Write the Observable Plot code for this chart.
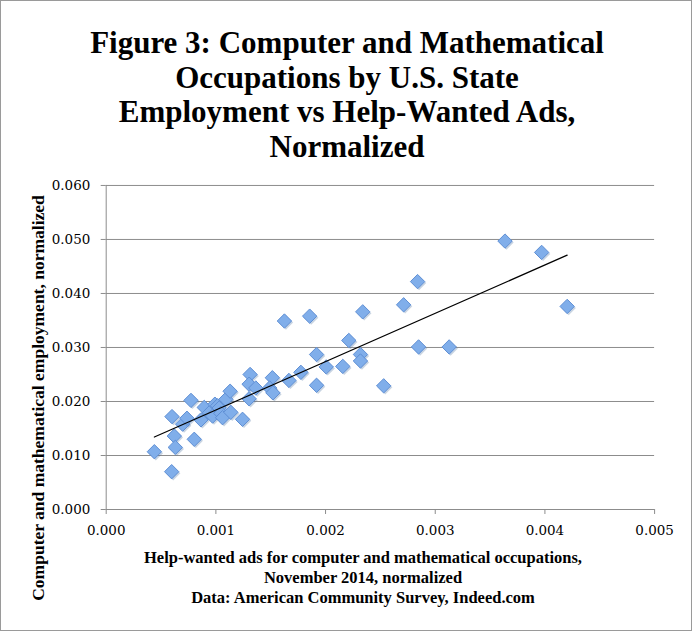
<!DOCTYPE html>
<html>
<head>
<meta charset="utf-8">
<script src="https://cdn.jsdelivr.net/npm/d3@7"></script>
<script src="https://cdn.jsdelivr.net/npm/@observablehq/plot@0.6"></script>
<style>
  html, body { margin: 0; padding: 0; background: #fff; }
  #wrap { position: relative; width: 692px; height: 631px; box-sizing: border-box; border: 1px solid #9a9a9a; overflow: hidden; background: #fff; }
  #title { position: absolute; left: 0; top: 25px; width: 692px; text-align: center; font-family: "Liberation Serif", serif; font-weight: bold; font-size: 31px; line-height: 34.5px; color: #000; }
  #xtitle { position: absolute; left: 62px; top: 547px; width: 600px; text-align: center; font-family: "Liberation Serif", serif; font-weight: bold; font-size: 16.5px; line-height: 20px; color: #000; }
  #ytitle { position: absolute; left: 37px; top: 397px; transform: translate(-50%, -50%) rotate(-90deg); white-space: nowrap; font-family: "Liberation Serif", serif; font-weight: bold; font-size: 17.5px; color: #000; }
  #chart { position: absolute; left: 0; top: 170px; }
</style>
</head>
<body>
<div id="wrap">
  <div id="title"></div>
  <div id="chart"></div>
  <div id="ytitle"></div>
  <div id="xtitle"></div>
</div>
<script>
const titleLines = [
  "Figure 3: Computer and Mathematical",
  "Occupations by U.S. State",
  "Employment vs Help-Wanted Ads,",
  "Normalized"
];
const xTitleLines = [
  "Help-wanted ads for computer and mathematical occupations,",
  "November 2014, normalized",
  "Data: American Community Survey, Indeed.com"
];
const yTitle = "Computer and mathematical employment, normalized";

const xTicks = [0, 0.001, 0.002, 0.003, 0.004, 0.005];
const yTicks = [0, 0.01, 0.02, 0.03, 0.04, 0.05, 0.06];

// Help-wanted ads (normalized), one per state
const adsX = [
  0.000439, 0.000597, 0.000600, 0.000621, 0.000630, 0.000697, 0.000736, 0.000773,
  0.000803, 0.000864, 0.000894, 0.000940, 0.000970, 0.000991, 0.001015, 0.001030,
  0.001045, 0.001061, 0.001091, 0.001130, 0.001136, 0.001243, 0.001303, 0.001312,
  0.001303, 0.001364, 0.001515, 0.001490, 0.001520, 0.001666, 0.001775, 0.001625,
  0.001855, 0.001918, 0.002006, 0.001918, 0.002157, 0.002212, 0.002318, 0.002318,
  0.002339, 0.002530, 0.002712, 0.002839, 0.002848, 0.003127, 0.003636, 0.003970,
  0.004203
];
// Computer and mathematical employment (normalized)
const empY = [
  0.0107, 0.0070, 0.0172, 0.0136, 0.0115, 0.0158, 0.0169, 0.0202,
  0.0130, 0.0166, 0.0189, 0.0179, 0.0173, 0.0195, 0.0192, 0.0188,
  0.0178, 0.0170, 0.0204, 0.0219, 0.0180, 0.0167, 0.0205, 0.0250,
  0.0232, 0.0225, 0.0244, 0.0225, 0.0216, 0.0239, 0.0254, 0.0349,
  0.0358, 0.0287, 0.0264, 0.0230, 0.0265, 0.0313, 0.0287, 0.0275,
  0.0366, 0.0229, 0.0379, 0.0422, 0.0301, 0.0301, 0.0497, 0.0476,
  0.0376
];

const data = adsX.map((x, i) => ({x, y: empY[i]}));

document.getElementById("title").innerHTML = titleLines.join("<br>");
document.getElementById("xtitle").innerHTML = xTitleLines.join("<br>");
document.getElementById("ytitle").textContent = yTitle;

const gray = "#8c8c8c";
const fmt = d3.format(".3f");

const chart = Plot.plot({
  width: 692,
  height: 380,
  marginLeft: 105,
  marginRight: 37,
  marginTop: 14,
  marginBottom: 41,
  style: {fontFamily: "DejaVu Serif", fontSize: "13.5px", color: "#000", background: "transparent"},
  x: {domain: [0, 0.005]},
  y: {domain: [0, 0.06]},
  marks: [
    Plot.gridY(yTicks, {stroke: gray, strokeOpacity: 1}),
    Plot.ruleY([0], {stroke: gray}),
    Plot.ruleX([0], {stroke: gray}),
    Plot.axisX(xTicks, {tickFormat: fmt, tickSize: 5, tickPadding: 11, stroke: gray, label: null}),
    Plot.axisY(yTicks, {tickFormat: fmt, tickSize: 5, tickPadding: 11, stroke: gray, label: null}),
    Plot.dot(data, {x: "x", y: "y", symbol: "diamond2", r: 6.5, fill: "#4a6f9e", fillOpacity: 0.3, stroke: "none", dx: 1.5, dy: 1.5}),
    Plot.dot(data, {x: "x", y: "y", symbol: "diamond2", r: 6.5, fill: "#80aeea", stroke: "#5e8fd4", strokeWidth: 1}),
    Plot.linearRegressionY(data, {x: "x", y: "y", ci: 0, stroke: "#000", strokeWidth: 1.2})
  ]
});
document.getElementById("chart").appendChild(chart);
</script>
</body>
</html>
